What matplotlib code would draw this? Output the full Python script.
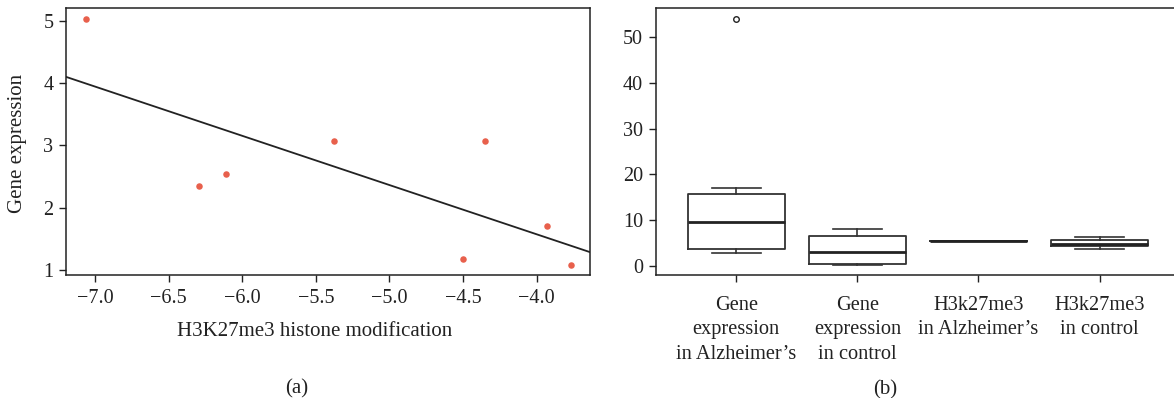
import numpy as np
import matplotlib
matplotlib.use("Agg")
import matplotlib.pyplot as plt

plt.rcParams['font.family'] = ['Liberation Serif', 'DejaVu Serif']
plt.rcParams['axes.unicode_minus'] = True

# Panel (a): scatter data
h3k27me3 = [-7.062, -6.291, -6.107, -5.374, -4.498, -4.353, -3.930, -3.769]
gene_expr = [5.04, 2.35, 2.54, 3.065, 1.165, 3.065, 1.70, 1.07]

# Panel (b): box plot statistics
box_labels = ["Gene\nexpression\nin Alzheimer\u2019s", "Gene\nexpression\nin control",
              "H3k27me3\nin Alzheimer\u2019s", "H3k27me3\nin control"]
whisker_low = [2.78, 0.08, 5.4, 3.72]
q1 = [3.59, 0.44, 5.4, 4.31]
median = [9.63, 3.0, 5.4, 4.81]
q3 = [15.75, 6.43, 5.4, 5.69]
whisker_high = [17.07, 8.1, 5.4, 6.35]
fliers = [[54.0], [], [], []]

W, H = 1174, 398
fig = plt.figure(figsize=(W / 100, H / 100), dpi=100)

FS_TICK = 14.5
FS_LAB = 15
ink = '#222222'

# ---------- Panel (a) ----------
ax1 = fig.add_axes([66 / W, 1 - 274.7 / H, (590 - 66) / W, (274.7 - 8) / H])
ax1.scatter(h3k27me3, gene_expr, s=22, color='#E8604C', zorder=3, linewidths=0)
slope, intercept = np.polyfit(h3k27me3, gene_expr, 1)
xl = np.array([-7.196, -3.638])
ax1.plot(xl, slope * xl + intercept, color=ink, lw=1.3, zorder=2)
ax1.set_xlim(-7.196, -3.638)
ax1.set_ylim(0.92, 5.21)
ax1.set_xticks([-7.0, -6.5, -6.0, -5.5, -5.0, -4.5, -4.0])
ax1.set_xticklabels(['\u22127.0', '\u22126.5', '\u22126.0', '\u22125.5', '\u22125.0', '\u22124.5', '\u22124.0'])
ax1.set_yticks([1, 2, 3, 4, 5])
for sp in ax1.spines.values():
    sp.set_linewidth(1.1)
    sp.set_color(ink)
ax1.tick_params(axis='both', labelsize=FS_TICK, length=5, width=1.0, color=ink, labelcolor=ink, pad=4)
ax1.tick_params(axis='x', pad=5)
fig.text(18 / W, 1 - 143 / H, 'Gene expression', fontsize=FS_LAB, color=ink,
         ha='center', va='center', rotation=90)
fig.text(315 / W, 1 - 331 / H, 'H3K27me3 histone modification', fontsize=FS_LAB, color=ink,
         ha='center', va='center')
fig.text(297 / W, 1 - 389 / H, '(a)', fontsize=FS_LAB, color=ink, ha='center', va='center')

# ---------- Panel (b) ----------
ax2 = fig.add_axes([655.7 / W, 1 - 275 / H, (W - 655.7) / W, (275 - 8) / H])
stats = []
for i in range(len(box_labels)):
    stats.append(dict(whislo=whisker_low[i], q1=q1[i], med=median[i], q3=q3[i],
                      whishi=whisker_high[i], fliers=fliers[i], label=box_labels[i]))
ax2.bxp(stats, positions=[1, 2, 3, 4], widths=0.8, showfliers=True,
        boxprops=dict(color='#333333', linewidth=1.3),
        medianprops=dict(color='#222222', linewidth=2.0),
        whiskerprops=dict(color='#333333', linewidth=1.2, linestyle='-'),
        capprops=dict(color='#333333', linewidth=1.2),
        capwidths=0.4,
        flierprops=dict(marker='o', markersize=4, markerfacecolor='white',
                        markeredgecolor='#222222', markeredgewidth=1.0))
ax2.set_xlim(0.334, 4.615)
ax2.set_ylim(-2.05, 56.4)
ax2.set_yticks([0, 10, 20, 30, 40, 50])
ax2.set_xticks([1, 2, 3, 4])
ax2.set_xticklabels(box_labels, linespacing=1.4, fontsize=14.7)
ax2.spines['right'].set_visible(False)
for sp in ['left', 'top', 'bottom']:
    ax2.spines[sp].set_linewidth(1.1)
    ax2.spines[sp].set_color(ink)
ax2.tick_params(axis='y', labelsize=FS_TICK, length=5, width=1.0, color=ink, labelcolor=ink, pad=4)
ax2.tick_params(axis='x', length=5, width=1.0, color=ink, labelcolor=ink, pad=10)
fig.text(885 / W, 1 - 390 / H, '(b)', fontsize=FS_LAB, color=ink, ha='center', va='center')

fig.savefig('out.png', dpi=100)
